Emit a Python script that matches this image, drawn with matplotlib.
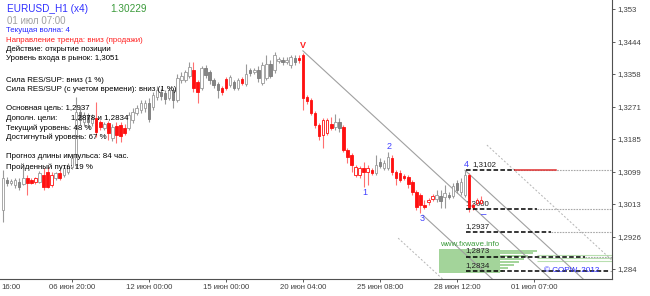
import matplotlib.pyplot as plt

plt.rcParams['font.family'] = ['Liberation Sans', 'DejaVu Sans']

# OHLC (H4 bars)
opens = [1.2997, 1.3076, 1.3068, 1.3063, 1.3071, 1.3066, 1.3082, 1.3076, 1.3071, 1.3071,
         1.3089, 1.3097, 1.3063, 1.3082, 1.3095, 1.3089, 1.3097, 1.3111, 1.3116, 1.3257,
         1.3230, 1.3249, 1.3228, 1.3241, 1.3230, 1.3214, 1.3228, 1.3188, 1.3220, 1.3222,
         1.3214, 1.3214, 1.3235, 1.3254, 1.3262, 1.3267, 1.3281, 1.3270, 1.3297, 1.3310,
         1.3307, 1.3294, 1.3315, 1.3289, 1.3342, 1.3342, 1.3352, 1.3368, 1.3336, 1.3320,
         1.3373, 1.3363, 1.3342, 1.3331, 1.3320, 1.3344, 1.3328, 1.3336, 1.3320, 1.3344,
         1.3331, 1.3368, 1.3363, 1.3368, 1.3334, 1.3347, 1.3384, 1.3368, 1.3392, 1.3395,
         1.3389, 1.3381, 1.3400, 1.3400, 1.3408, 1.3297, 1.3289, 1.3254, 1.3222, 1.3196,
         1.3201, 1.3225, 1.3217, 1.3230, 1.3217, 1.3156, 1.3143, 1.3089, 1.3089, 1.3108,
         1.3097, 1.3103, 1.3095, 1.3124, 1.3108, 1.3108, 1.3135, 1.3097, 1.3095, 1.3087,
         1.3084, 1.3071, 1.3044, 1.3036, 1.3010, 1.3018, 1.3026, 1.3026, 1.3034, 1.3031,
         1.3036, 1.3034, 1.3068, 1.3044, 1.3036, 1.3089, 1.3010, 1.3015, 1.3015]
highs = [1.3103, 1.3084, 1.3079, 1.3082, 1.3082, 1.3108, 1.3089, 1.3082, 1.3084, 1.3100,
         1.3108, 1.3111, 1.3097, 1.3097, 1.3103, 1.3116, 1.3121, 1.3143, 1.3297, 1.3267,
         1.3257, 1.3254, 1.3251, 1.3283, 1.3235, 1.3230, 1.3233, 1.3225, 1.3230, 1.3230,
         1.3225, 1.3257, 1.3267, 1.3275, 1.3289, 1.3289, 1.3294, 1.3310, 1.3326, 1.3320,
         1.3315, 1.3323, 1.3320, 1.3358, 1.3363, 1.3368, 1.3389, 1.3389, 1.3342, 1.3379,
         1.3381, 1.3368, 1.3347, 1.3336, 1.3326, 1.3350, 1.3355, 1.3342, 1.3347, 1.3350,
         1.3384, 1.3373, 1.3373, 1.3379, 1.3389, 1.3408, 1.3395, 1.3416, 1.3403, 1.3403,
         1.3403, 1.3408, 1.3408, 1.3408, 1.3413, 1.3302, 1.3294, 1.3259, 1.3228, 1.3241,
         1.3241, 1.3243, 1.3251, 1.3241, 1.3222, 1.3161, 1.3148, 1.3116, 1.3113, 1.3124,
         1.3116, 1.3108, 1.3143, 1.3135, 1.3129, 1.3150, 1.3143, 1.3103, 1.3103, 1.3092,
         1.3089, 1.3076, 1.3050, 1.3042, 1.3023, 1.3028, 1.3039, 1.3050, 1.3050, 1.3063,
         1.3044, 1.3068, 1.3076, 1.3082, 1.3102, 1.3095, 1.3015, 1.3028, 1.3034]
lows = [1.2965, 1.3060, 1.3063, 1.3055, 1.3050, 1.3063, 1.3036, 1.3066, 1.3066, 1.3068,
        1.3050, 1.3055, 1.3058, 1.3076, 1.3076, 1.3084, 1.3092, 1.3105, 1.3108, 1.3222,
        1.3220, 1.3214, 1.3220, 1.3190, 1.3209, 1.3209, 1.3182, 1.3180, 1.3174, 1.3177,
        1.3196, 1.3209, 1.3228, 1.3249, 1.3254, 1.3257, 1.3230, 1.3262, 1.3289, 1.3289,
        1.3278, 1.3289, 1.3267, 1.3283, 1.3334, 1.3336, 1.3347, 1.3310, 1.3281, 1.3315,
        1.3347, 1.3331, 1.3320, 1.3294, 1.3302, 1.3315, 1.3323, 1.3315, 1.3315, 1.3328,
        1.3326, 1.3352, 1.3358, 1.3336, 1.3328, 1.3342, 1.3347, 1.3360, 1.3387, 1.3381,
        1.3384, 1.3373, 1.3381, 1.3387, 1.3262, 1.3278, 1.3249, 1.3214, 1.3182, 1.3161,
        1.3196, 1.3209, 1.3209, 1.3204, 1.3150, 1.3121, 1.3097, 1.3084, 1.3082, 1.3058,
        1.3063, 1.3089, 1.3089, 1.3108, 1.3103, 1.3103, 1.3089, 1.3063, 1.3071, 1.3076,
        1.3055, 1.3036, 1.2997, 1.2989, 1.2999, 1.3010, 1.3020, 1.3018, 1.3002, 1.3002,
        1.3026, 1.3028, 1.3042, 1.3036, 1.3031, 1.2991, 1.2997, 1.3010, 1.3013]
closes = [1.3082, 1.3068, 1.3074, 1.3076, 1.3058, 1.3082, 1.3068, 1.3068, 1.3082, 1.3095,
          1.3058, 1.3058, 1.3089, 1.3095, 1.3082, 1.3108, 1.3116, 1.3135, 1.3257, 1.3235,
          1.3249, 1.3230, 1.3241, 1.3204, 1.3217, 1.3225, 1.3201, 1.3217, 1.3196, 1.3193,
          1.3201, 1.3249, 1.3257, 1.3267, 1.3281, 1.3281, 1.3238, 1.3302, 1.3315, 1.3299,
          1.3291, 1.3315, 1.3289, 1.3347, 1.3352, 1.3363, 1.3376, 1.3320, 1.3310, 1.3373,
          1.3355, 1.3342, 1.3328, 1.3315, 1.3310, 1.3320, 1.3350, 1.3320, 1.3342, 1.3334,
          1.3358, 1.3360, 1.3368, 1.3347, 1.3381, 1.3384, 1.3352, 1.3408, 1.3397, 1.3389,
          1.3395, 1.3403, 1.3389, 1.3395, 1.3294, 1.3286, 1.3254, 1.3222, 1.3193, 1.3235,
          1.3235, 1.3214, 1.3230, 1.3214, 1.3156, 1.3137, 1.3116, 1.3111, 1.3108, 1.3097,
          1.3108, 1.3095, 1.3116, 1.3113, 1.3121, 1.3137, 1.3097, 1.3082, 1.3076, 1.3082,
          1.3066, 1.3044, 1.3005, 1.3010, 1.3005, 1.3023, 1.3034, 1.3036, 1.3020, 1.3042,
          1.3031, 1.3060, 1.3050, 1.3071, 1.3089, 1.3002, 1.3005, 1.3023, 1.3023]
# bars marked by the wave indicator (drawn red)
wave_marked = ("ggggggrrrg" "rrrgrggggg" "gggrrgrgrr" "rggggggggg"
               "gggggggrrg" "ggggrrgggr" "gggggggggg" "gggrrrrrrr"
               "rrggrrrrrr" "rrggggrrrr" "rrrrrrrggg" "gggggrrrr")

# wave points
wave_bars = [89, 95, 103, 114]
wave_names = ['1', '2', '3', '4']
v_bar = 74

# channel lines: start bar, start price
chan_bars = [74, 103.6, 114, 119.4, 97.5]
chan_prices = [1.3419, 1.2983, 1.3102, 1.3169, 1.2922]
chan_dotted = [False, False, False, True, True]
chan_slope = -0.00099  # price per bar

# target levels
level_prices = [1.3102, 1.3000, 1.2937, 1.2873, 1.2834]
level_labels = ['1,3102', '1,3000', '1,2937', '1,2873', '1,2834']
level_dash_end = [126.3, 131.8, 135.2, 143.6, 149.8]

# target zone profile
zone_prices = [1.2889, 1.2882, 1.2874, 1.2866, 1.2858, 1.2850, 1.2842, 1.2834]
zone_ends = [131.8, 130.8, 129.5, 128.6, 127.3, 126.1, 124.6, 123.4]

xtick_bars = [17, 36, 55, 74, 93, 112, 131]
xtick_labels = ['06 июн 20:00', '12 июн 00:00', '15 июн 00:00', '20 июн 04:00',
                '25 июн 08:00', '28 июн 12:00', '01 июл 07:00']
ytick_vals = [1.284, 1.292625, 1.30125, 1.309875, 1.3185, 1.327125, 1.33575, 1.344375, 1.353]
ytick_labels = ['1,284', '1,2926', '1,3013', '1,3099', '1,3185', '1,3271', '1,3358', '1,3444', '1,353']

info_lines = [
    ('Текущая волна: 4', '#2b2bff'),
    ('Направление тренда: вниз (продажи)', '#ff2020'),
    ('Действие: открытие позиции', 'black'),
    ('Уровень входа в рынок: 1,3051', 'black'),
    ('Сила RES/SUP: вниз (1 %)', 'black'),
    ('Сила RES/SUP (с учетом времени): вниз (1 %)', 'black'),
    ('Основная цель: 1,2937', 'black'),
    ('Дополн. цели:      1,2878 и 1,2834', 'black'),
    ('Текущий уровень: 48 %', 'black'),
    ('Достигнутый уровень: 67 %', 'black'),
    ('Прогноз длины импульса: 84 час.', 'black'),
    ('Пройденный путь: 19 %', 'black'),
]
info_rows = [30, 40, 49, 59, 80, 90, 109, 118, 128, 137, 157, 167]

fig = plt.figure(figsize=(6.5, 2.96), dpi=100)
ax = fig.add_axes([0, 17 / 296, 612 / 650, 279 / 296])
ax.set_xlim(-0.74, 150.27)
ax.set_ylim(1.28135, 1.35539)

# candles
x = list(range(len(opens)))
wick_cols, face_cols, edge_cols = [], [], []
for i in x:
    red = wave_marked[i] == 'r'
    bull = closes[i] >= opens[i]
    wick_cols.append('#ff7070' if red else '#9a9a9a')
    edge_cols.append('#ff1010' if red else ('#9a9a9a' if bull else '#7a7a7a'))
    face_cols.append('white' if bull else ('#ff1010' if red else '#858585'))
ax.vlines(x, lows, highs, colors=wick_cols, linewidth=0.8, zorder=3)
bottoms = [min(o, c) for o, c in zip(opens, closes)]
heights = [max(abs(c - o), 0.00004) for o, c in zip(opens, closes)]
ax.bar(x, heights, bottom=bottoms, width=0.62, color=face_cols,
       edgecolor=edge_cols, linewidth=0.6, zorder=4)

# channel lines
for b, p, dotted in zip(chan_bars, chan_prices, chan_dotted):
    xe = 152
    ye = p + chan_slope * (xe - b)
    if dotted:
        ax.plot([b, xe], [p, ye], color='#b4b4b4', lw=0.7, ls=(0, (2, 2)), zorder=2)
    else:
        ax.plot([b, xe], [p, ye], color='#a0a0a0', lw=0.8, zorder=2)

# target zone
ax.fill_between([107.6, 122.6], 1.2829, 1.2893, color='#a3d49a', lw=0, zorder=1)
ax.hlines(zone_prices, 122.6, zone_ends, color='#a3d49a', lw=1.4, zorder=1)
ax.hlines([1.2878, 1.2870, 1.2862], 131.8, 150.3, color='#b8dfb0', lw=0.8, zorder=1)

# levels
start = 114.2
for p, lab, end in zip(level_prices, level_labels, level_dash_end):
    ax.plot([start, end], [p, p], color='black', lw=1.1, ls=(0, (3, 1.5)), zorder=5)
    ax.plot([end, 151], [p, p], color='#a8a8a8', lw=0.8, ls=(0, (1.5, 1)), zorder=2)
    lx = 115.8 if lab == '1,3102' else 114.0
    ax.annotate(lab, (lx, p), xytext=(0, 1.5), textcoords='offset points',
                fontsize=5.7, color='#202020', va='bottom', ha='left',
                zorder=2 if lab == '1,3000' else 6)
ax.plot([126.3, 136.5], [level_prices[0]] * 2, color='#e03030', lw=1.1, zorder=5)

# wave labels
ax.annotate('V', (v_bar, highs[v_bar]), xytext=(0, 2), textcoords='offset points',
            ha='center', va='bottom', fontsize=6.5, color='#ff2020', fontweight='bold')
for b, name in zip(wave_bars, wave_names):
    if name in ('2', '4'):
        ax.annotate(name, (b, highs[b]), xytext=(1, 1), textcoords='offset points',
                    ha='center', va='bottom', fontsize=6.5, color='#4040ff')
    else:
        ax.annotate(name, (b, lows[b]), xytext=(1, -1), textcoords='offset points',
                    ha='center', va='top', fontsize=6.5, color='#4040ff')
ax.text(118.6, 1.2986, '–', color='#4040ff', fontsize=7, ha='center', va='center', zorder=6)

ax.text(107.9, 1.2905, 'www.fxwave.info', color='#3c9c3c', fontsize=5.8,
        ha='left', va='center', zorder=6)
ax.text(133.4, 1.2835, '© COPW, 2012', color='#3030ff', fontsize=5.9,
        ha='left', va='center', zorder=6)

# header and info block
ax.text(7 / 612, 1 - 9 / 279, 'EURUSD_H1 (x4)', transform=ax.transAxes,
        color='#3030ff', fontsize=7.2, va='center', ha='left')
ax.text(110 / 612, 1 - 9 / 279, '1.30229', transform=ax.transAxes,
        color='#3a9a3a', fontsize=7.2, va='center', ha='left')
ax.text(7 / 612, 1 - 21 / 279, '01 июл 07:00', transform=ax.transAxes,
        color='#a0a0a0', fontsize=7.0, va='center', ha='left')
for (txt, col), row in zip(info_lines, info_rows):
    ax.text(6 / 612, 1 - row / 279, txt, transform=ax.transAxes,
            color=col, fontsize=5.7, va='center', ha='left', zorder=7)

# axes
for s in ['top', 'left']:
    ax.spines[s].set_visible(False)
for s in ['right', 'bottom']:
    ax.spines[s].set_color('#505050')
    ax.spines[s].set_linewidth(0.8)
ax.yaxis.tick_right()
ax.set_yticks(ytick_vals)
ax.set_yticklabels(ytick_labels)
ax.set_xticks(xtick_bars)
ax.set_xticklabels(xtick_labels)
ax.tick_params(axis='both', labelsize=5.6, colors='#404040', length=2.2, width=0.6, pad=1.5)
# visible tail of the first date label at the left edge
ax.annotate('16:00', (0.003, 0), xycoords='axes fraction', xytext=(0, -3.7),
            textcoords='offset points', fontsize=5.6, color='#404040',
            ha='left', va='top', annotation_clip=False)

fig.savefig('out.png', dpi=100)
